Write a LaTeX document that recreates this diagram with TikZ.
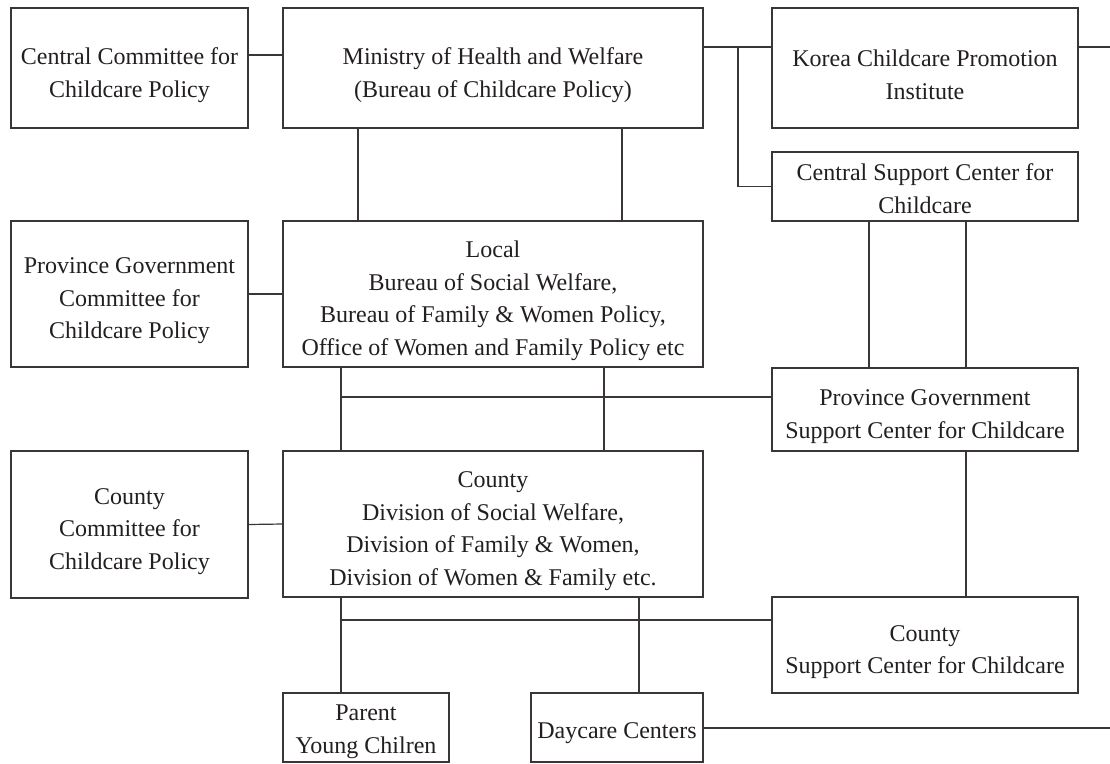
\documentclass[tikz,border=0pt]{standalone}
\usepackage{fontspec}
\setmainfont{Liberation Serif}
\definecolor{linec}{HTML}{3A3636}
\definecolor{textc}{HTML}{231F20}
\begin{document}
\begin{tikzpicture}[x=1pt,y=-1pt,
  box/.style={draw=linec, line width=1.2pt, inner sep=0pt, outer sep=0pt},
  txt/.style={align=center, inner sep=0pt, text=textc, yshift=-7pt,
    font=\fontsize{24}{32.5}\selectfont},
  conn/.style={draw=linec, line width=1.2pt}]
\useasboundingbox (0,0) rectangle (1110,763);
\fill[white] (0,0) rectangle (1110,763);

% boxes
\node[box, minimum width=237, minimum height=120, label={[txt]center:{Central Committee for\\Childcare Policy}}] (cc) at (129.5,68) {};
\node[box, minimum width=420, minimum height=120, label={[txt]center:{Ministry of Health and Welfare\\(Bureau of Childcare Policy)}}] (min) at (493,68) {};
\node[box, minimum width=306, minimum height=120, label={[txt]center:{Korea Childcare Promotion\\Institute}}] (kor) at (925,68) {};
\node[box, minimum width=306, minimum height=69, label={[txt, yshift=5pt]center:{Central Support Center for\\Childcare}}] (csc) at (925,186.5) {};
\node[box, minimum width=237, minimum height=146, label={[txt]center:{Province Government\\Committee for\\Childcare Policy}}] (pgc) at (129.5,294) {};
\node[box, minimum width=420, minimum height=146, label={[txt]center:{Local\\Bureau of Social Welfare,\\Bureau of Family \& Women Policy,\\Office of Women and Family Policy etc}}] (loc) at (493,294) {};
\node[box, minimum width=306, minimum height=83, label={[txt]center:{Province Government\\Support Center for Childcare}}] (psc) at (925,409.5) {};
\node[box, minimum width=237, minimum height=147, label={[txt]center:{County\\Committee for\\Childcare Policy}}] (cyc) at (129.5,524.5) {};
\node[box, minimum width=420, minimum height=146, label={[txt]center:{County\\Division of Social Welfare,\\Division of Family \& Women,\\Division of Women \& Family etc.}}] (cty) at (493,524) {};
\node[box, minimum width=306, minimum height=96, label={[txt]center:{County\\Support Center for Childcare}}] (csu) at (925,645) {};
\node[box, minimum width=166, minimum height=69, label={[txt, yshift=3pt]center:{Parent\\Young Chilren}}] (par) at (366,727.5) {};
\node[box, minimum width=172, minimum height=69, label={[txt, yshift=1pt]center:{Daycare Centers}}] (day) at (617,727.5) {};

% helper coordinates
\coordinate (y55) at (0,55);
\coordinate (br)  at (738,47);
\coordinate (re1) at (1110,47);
\coordinate (xa) at (358,0);
\coordinate (xb) at (622,0);
\coordinate (xc) at (869,0);
\coordinate (xd) at (966,0);
\coordinate (h1) at (341,397);
\coordinate (xe) at (604,0);
\coordinate (h2) at (341,620);
\coordinate (xf) at (639,0);
\coordinate (re2) at (1110,728);

% connectors
\draw[conn] (cc.east |- y55) -- (min.west |- y55);
\draw[conn] (min.east |- br) -- (kor.west |- br);
\draw[conn] (br) |- (csc.west);
\draw[conn] (kor.east |- re1) -- (re1);
\draw[conn] (min.south -| xa) -- (loc.north -| xa);
\draw[conn] (min.south -| xb) -- (loc.north -| xb);
\draw[conn] (pgc.east) -- (loc.west);
\draw[conn] (csc.south -| xc) -- (psc.north -| xc);
\draw[conn] (csc.south -| xd) -- (psc.north -| xd);
\draw[conn] (loc.south -| h1) -- (cty.north -| h1);
\draw[conn] (loc.south -| xe) -- (cty.north -| xe);
\draw[conn] (h1) -- (psc.west |- h1);
\draw[conn] (cyc.east) -- (cty.west);
\draw[conn] (psc.south -| xd) -- (csu.north -| xd);
\draw[conn] (cty.south -| h2) -- (par.north -| h2);
\draw[conn] (cty.south -| xf) -- (day.north -| xf);
\draw[conn] (h2) -- (csu.west |- h2);
\draw[conn] (day.east |- re2) -- (re2);
\end{tikzpicture}
\end{document}
